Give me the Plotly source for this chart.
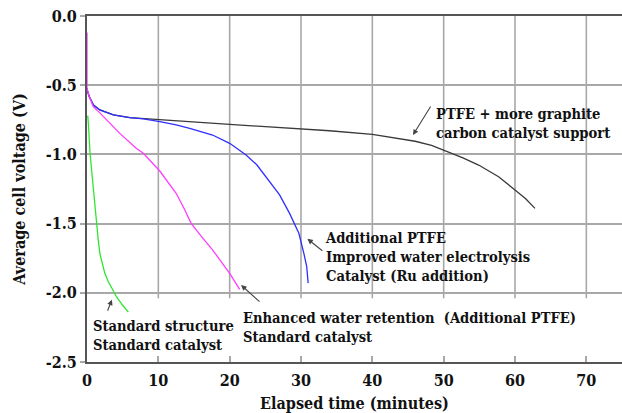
import plotly.graph_objects as go

# ---- data ----
graphite_t = [0, 0.05, 0.3, 0.9, 1.8, 3.7, 6.0, 10.2, 14.8, 20.0, 25.0, 29.7, 34.0, 40.0, 44.0, 46.0, 48.3, 50.3, 52.7, 54.9, 57.7, 60.0, 61.5, 62.8]
graphite_v = [-0.52, -0.54, -0.58, -0.643, -0.679, -0.715, -0.735, -0.751, -0.768, -0.783, -0.80, -0.815, -0.829, -0.855, -0.885, -0.905, -0.935, -0.975, -1.025, -1.077, -1.161, -1.257, -1.32, -1.39]

ru_t = [0, 0.05, 0.3, 0.9, 1.8, 3.7, 6.0, 7.9, 10.2, 12.5, 14.4, 17.6, 20.0, 21.4, 22.3, 23.8, 25.1, 27.0, 28.4, 29.7, 30.4, 30.8, 31.0]
ru_v = [-0.52, -0.54, -0.58, -0.643, -0.679, -0.715, -0.735, -0.744, -0.763, -0.786, -0.812, -0.86, -0.92, -0.968, -1.004, -1.075, -1.161, -1.293, -1.426, -1.57, -1.715, -1.81, -1.93]

retention_t = [0, 0, 0.3, 0.88, 1.8, 2.75, 4.6, 6.9, 7.9, 10.2, 12.5, 13.7, 14.6, 16.0, 17.6, 20.0, 21.1, 21.4]
retention_v = [-0.12, -0.52, -0.58, -0.655, -0.70, -0.751, -0.848, -0.956, -0.992, -1.12, -1.281, -1.40, -1.498, -1.59, -1.69, -1.859, -1.956, -1.975]

standard_t = [0.1, 0.2, 0.42, 0.65, 0.88, 1.12, 1.35, 1.58, 1.82, 2.5, 3.0, 3.67, 4.15, 5.0, 5.8]
standard_v = [-0.72, -0.78, -0.99, -1.12, -1.257, -1.40, -1.49, -1.62, -1.72, -1.859, -1.92, -1.98, -2.03, -2.09, -2.14]

x_ticks = [0, 10, 20, 30, 40, 50, 60, 70]
y_ticks = [0.0, -0.5, -1.0, -1.5, -2.0, -2.5]
y_tick_labels = ["0.0", "-0.5", "-1.0", "-1.5", "-2.0", "-2.5"]

FONT = "DejaVu Serif Condensed, DejaVu Serif"
AXIS_COL = "#555555"
GRID_COL = "#a8a8a8"

fig = go.Figure()
series = [
    (graphite_t, graphite_v, "#3a3a3a"),
    (ru_t, ru_v, "#2f2fff"),
    (retention_t, retention_v, "#ff3cff"),
    (standard_t, standard_v, "#2ee62e"),
]
for t, v, c in series:
    fig.add_trace(go.Scatter(x=t, y=v, mode="lines", line=dict(color=c, width=1.3),
                             showlegend=False, hoverinfo="skip"))

shapes = []
for xt in x_ticks[1:]:
    shapes.append(dict(type="line", xref="x", yref="y", x0=xt, x1=xt, y0=-2.04, y1=0,
                       line=dict(color=GRID_COL, width=1.6), layer="below"))

tfont = dict(family=FONT, size=14.6, color="#111111")
def b(s):
    return "<br>".join("<b>" + line + "</b>" for line in s.split("\n"))

annotations = [
    dict(x=48.6, y=-0.77, text=b("PTFE + more graphite\ncarbon catalyst support"),
         showarrow=False, xanchor="left", yanchor="middle", align="left", font=tfont),
    dict(x=33.1, y=-1.74, text=b("Additional PTFE\nImproved water electrolysis\nCatalyst (Ru addition)"),
         showarrow=False, xanchor="left", yanchor="middle", align="left", font=tfont),
    dict(x=21.6, y=-2.25, text=b("Enhanced water retention  (Additional PTFE)\nStandard catalyst"),
         showarrow=False, xanchor="left", yanchor="middle", align="left", font=tfont),
    dict(x=0.56, y=-2.305, text=b("Standard structure\nStandard catalyst"),
         showarrow=False, xanchor="left", yanchor="middle", align="left", font=tfont),
]
arrows = [
    (45.7, -0.86, 48.3, -0.643),
    (30.9, -1.61, 33.2, -1.705),
    (21.6, -1.944, 24.4, -2.074),
    (3.5, -2.05, 2.8, -2.14),
]
for hx, hy, tx, ty in arrows:
    annotations.append(dict(x=hx, y=hy, ax=tx, ay=ty, xref="x", yref="y", axref="x", ayref="y",
                            text="", showarrow=True, arrowhead=2, arrowsize=1, arrowwidth=1.1,
                            arrowcolor="#444444"))

fig.update_layout(
    width=622, height=413,
    margin=dict(l=87, r=0, t=16, b=51),
    paper_bgcolor="white", plot_bgcolor="white",
    shapes=shapes, annotations=annotations,
    xaxis=dict(range=[0, 75], tickvals=x_ticks, ticktext=["<b>%d</b>" % v for v in x_ticks],
               showgrid=False, zeroline=False,
               showline=True, linecolor=AXIS_COL, linewidth=2, mirror=True,
               ticks="inside", ticklen=6, tickcolor=GRID_COL, tickwidth=1.5,
               ticklabelstandoff=3,
               tickfont=dict(family=FONT, size=16, color="#111111"),
               title=dict(text="<b>Elapsed time (minutes)</b>", standoff=9,
                          font=dict(family=FONT, size=16, color="#111111"))),
    yaxis=dict(range=[-2.5, 0], tickvals=y_ticks, ticktext=["<b>%s</b>" % s for s in y_tick_labels],
               showgrid=True, gridcolor=GRID_COL, gridwidth=1.6, zeroline=False,
               showline=True, linecolor=AXIS_COL, linewidth=2,
               ticks="outside", ticklen=5, tickcolor=GRID_COL, tickwidth=1.5,
               tickfont=dict(family=FONT, size=16, color="#111111"),
               title=dict(text="<b>Average cell voltage (V)</b>", standoff=16,
                          font=dict(family=FONT, size=16, color="#111111"))),
)

fig.write_html("out.html")
